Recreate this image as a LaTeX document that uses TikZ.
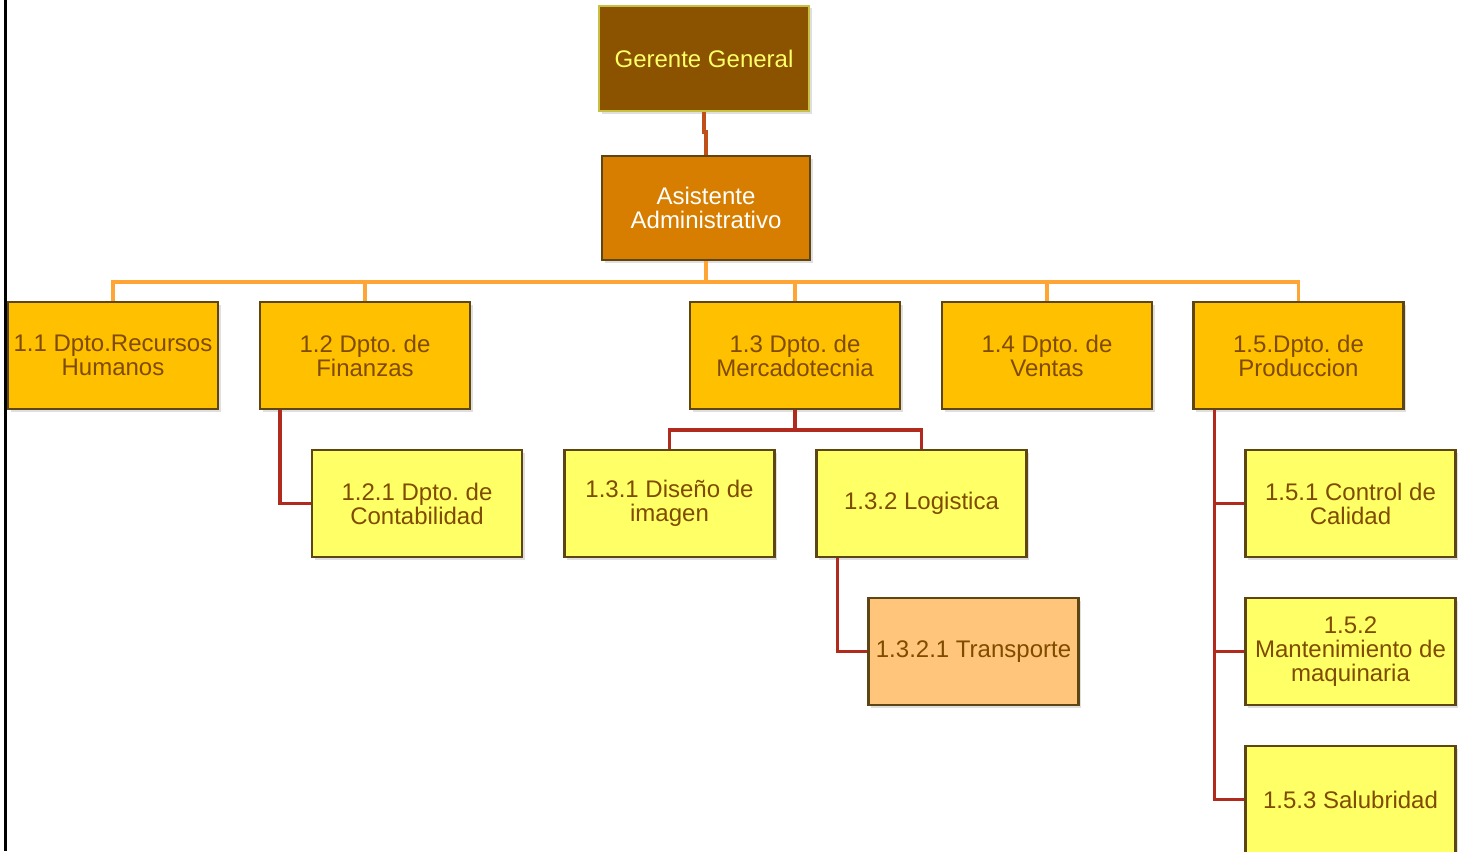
\documentclass[tikz,border=0pt]{standalone}
\usepackage{fontspec}
\setmainfont{Liberation Sans}
\usetikzlibrary{shadows}
\definecolor{ggfill}{HTML}{8B5200}
\definecolor{ggedge}{HTML}{C8C040}
\definecolor{ggtext}{HTML}{FFFF66}
\definecolor{aafill}{HTML}{D77E00}
\definecolor{lonefill}{HTML}{FFC000}
\definecolor{ltwofill}{HTML}{FFFF66}
\definecolor{trfill}{HTML}{FFC57A}
\definecolor{boxedge}{HTML}{5E4514}
\definecolor{txtbrown}{HTML}{7F4B00}
\definecolor{busorange}{HTML}{FFA535}
\definecolor{linkred}{HTML}{B02A1E}
\definecolor{topred}{HTML}{C0501A}
\begin{document}
\frenchspacing
\begin{tikzpicture}[x=1pt,y=-1pt,
  font=\fontsize{24}{24}\selectfont,
  box/.style={draw=boxedge,line width=2.2pt,minimum width=210pt,minimum height=107pt,
    inner sep=0pt,align=center,text=txtbrown,
    drop shadow={shadow xshift=2.5pt,shadow yshift=-2.5pt,fill=black!25}},
  lone/.style={box,fill=lonefill},
  ltwo/.style={box,fill=ltwofill},
  bus/.style={draw=busorange,line width=3.5pt},
  link/.style={draw=linkred,line width=3.5pt},
  toplink/.style={draw=topred,line width=3.5pt}]
\useasboundingbox (0,0) rectangle (1463,851);
\draw[line width=3pt] (5,0) -- (5,851);

\node[box,fill=ggfill,draw=ggedge,text=ggtext,minimum height=105pt] (gg) at (704,58.5) {Gerente General};
\node[box,fill=aafill,text=white,minimum width=208pt,minimum height=104pt] (aa) at (706,208) {Asistente\\Administrativo};

\node[lone] (n11) at (113,355.5) {1.1 Dpto.Recursos\\Humanos};
\node[lone] (n12) at (365,355.5) {1.2 Dpto. de\\Finanzas};
\node[lone] (n13) at (795,355.5) {1.3 Dpto. de\\Mercadotecnia};
\node[lone] (n14) at (1047,355.5) {1.4 Dpto. de\\Ventas};
\node[lone] (n15) at (1298.5,355.5) {1.5.Dpto. de\\Produccion};

\node[ltwo] (n121) at (417,503.5) {1.2.1 Dpto. de\\Contabilidad};
\node[ltwo] (n131) at (669.5,503.5) {1.3.1 Diseño de\\imagen};
\node[ltwo] (n132) at (921.5,503.5) {1.3.2 Logistica};
\node[box,fill=trfill] (n1321) at (973.5,651.5) {1.3.2.1 Transporte};
\node[ltwo] (n151) at (1350.5,503.5) {1.5.1 Control de\\Calidad};
\node[ltwo] (n152) at (1350.5,651.5) {1.5.2\\Mantenimiento de\\maquinaria};
\node[ltwo] (n153) at (1350.5,799.5) {1.5.3 Salubridad};

\draw[toplink] (gg.south) -- ++(0,20) -| (aa.north);

\foreach \n in {n11,n12,n13,n14,n15}
  \draw[bus] (aa.south) -- ++(0,21) -| (\n.north);

\draw[link] ([xshift=21pt]n12.south west) |- (n121.west);
\draw[link] (n13.south) -- ++(0,20) -| (n131.north);
\draw[link] (n13.south) -- ++(0,20) -| (n132.north);
\draw[link] ([xshift=22pt]n132.south west) |- (n1321.west);
\draw[link] ([xshift=22pt]n15.south west) |- (n151.west);
\draw[link] ([xshift=22pt]n15.south west) |- (n152.west);
\draw[link] ([xshift=22pt]n15.south west) |- (n153.west);
\end{tikzpicture}
\end{document}
